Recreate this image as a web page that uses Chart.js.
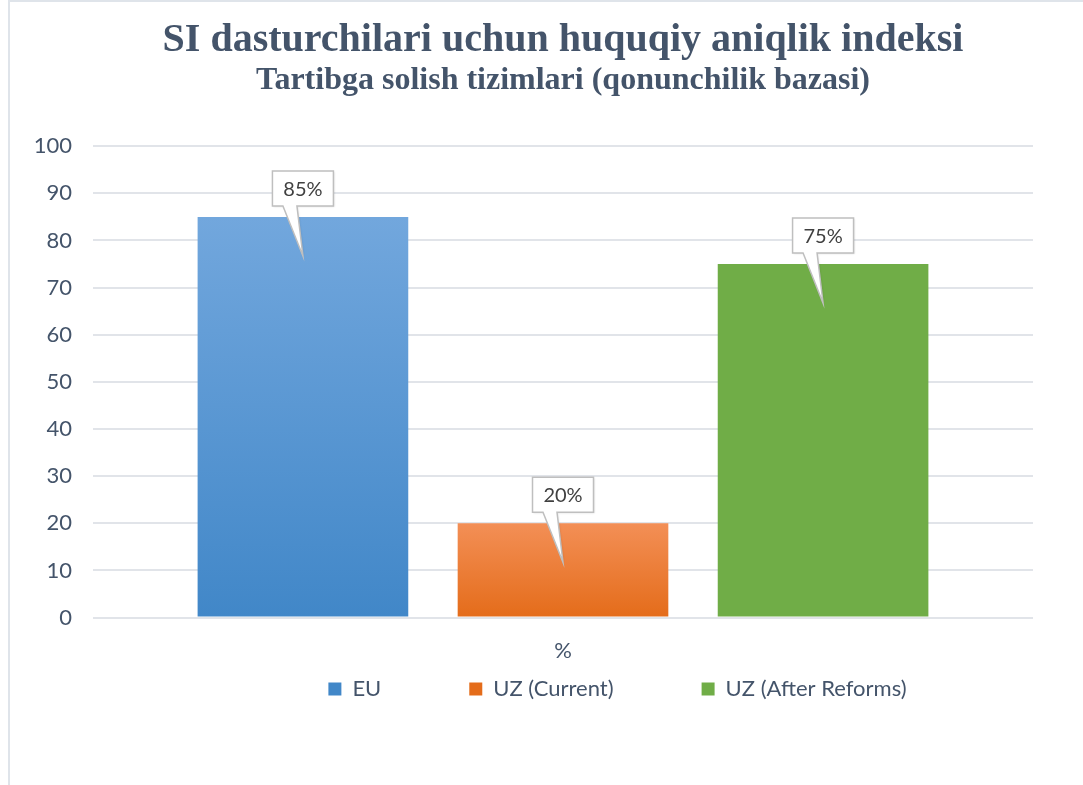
<!DOCTYPE html>
<html>
<head>
<meta charset="utf-8">
<script src="https://cdn.jsdelivr.net/npm/chart.js@4.4.1/dist/chart.umd.min.js"></script>
<style>
  html, body { margin: 0; padding: 0; background: #ffffff; }
  #wrap { position: relative; width: 1083px; height: 785px; }
  #frame { position: absolute; left: 8px; top: 0; width: 1075px; height: 785px;
           border-left: 2px solid #dfe4ea; border-top: 2px solid #dfe4ea; box-sizing: border-box; }
  canvas { position: absolute; left: 0; top: 0; }
</style>
</head>
<body>
<div id="wrap">
  <div id="frame"></div>
  <canvas id="myChart" width="1083" height="785"></canvas>
</div>
<script>
// Datos del gráfico
const categorias = ['%'];
const series = ['EU', 'UZ (Current)', 'UZ (After Reforms)'];
const valores = [85, 20, 75];
const etiquetas = ['85%', '20%', '75%'];
const ticksY = [0, 10, 20, 30, 40, 50, 60, 70, 80, 90, 100];

const titulo = 'SI dasturchilari uchun huquqiy aniqlik indeksi';
const subtitulo = 'Tartibga solish tizimlari (qonunchilik bazasi)';

// colores: [arriba, abajo]
const colores = [
    ['#72a7dd', '#4187c8'],
    ['#f38f56', '#e46c1a'],
    ['#70ad47', '#70ad47']
];

const colorTexto = '#44546a';
const fuente = 'Lato, "Open Sans", sans-serif';

function degradado(i) {
    return function(context) {
        const chart = context.chart;
        const area = chart.chartArea;
        if (!area) return colores[i][1];
        const y = chart.scales.y;
        const top = y.getPixelForValue(valores[i]);
        const bottom = y.getPixelForValue(0);
        const g = chart.ctx.createLinearGradient(0, top, 0, bottom);
        g.addColorStop(0, colores[i][0]);
        g.addColorStop(1, colores[i][1]);
        return g;
    };
}

// Etiquetas tipo "globo" encima de cada barra
const globos = {
    id: 'globos',
    afterDatasetsDraw(chart) {
        const ctx = chart.ctx;
        ctx.save();
        chart.data.datasets.forEach((ds, i) => {
            const bar = chart.getDatasetMeta(i).data[0];
            if (!bar) return;
            const cx = bar.x;
            const top = bar.y - 46;
            const bottom = bar.y - 11;
            const w = 61;
            const left = cx - w / 2;
            const tipY = bar.y + 39;

            ctx.beginPath();
            ctx.moveTo(left, top);
            ctx.lineTo(left + w, top);
            ctx.lineTo(left + w, bottom);
            ctx.lineTo(cx - 6, bottom);
            ctx.lineTo(cx, tipY);
            ctx.lineTo(cx - 20, bottom);
            ctx.lineTo(left, bottom);
            ctx.closePath();
            ctx.shadowColor = 'rgba(0,0,0,0.12)';
            ctx.shadowBlur = 2;
            ctx.shadowOffsetX = 1;
            ctx.shadowOffsetY = 1;
            ctx.fillStyle = '#ffffff';
            ctx.fill();
            ctx.shadowColor = 'transparent';
            ctx.strokeStyle = '#bfbfbf';
            ctx.lineWidth = 1.5;
            ctx.stroke();

            ctx.fillStyle = '#404040';
            ctx.font = '20px ' + fuente;
            ctx.textAlign = 'center';
            ctx.textBaseline = 'middle';
            ctx.fillText(etiquetas[i], cx, (top + bottom) / 2 + 1);
        });
        ctx.restore();
    }
};

// La leyenda usa un padding grande para separar los elementos;
// aquí se recoloca la caja (justo debajo del eje X y algo a la derecha)
const PAD_LEYENDA = 88;
const moverLeyenda = {
    id: 'moverLeyenda',
    afterLayout(chart) {
        const lg = chart.legend;
        if (!lg) return;
        lg.top = chart.scales.x.bottom - 6 - PAD_LEYENDA;
        lg.bottom = Math.max(lg.bottom, chart.scales.x.bottom + 60);
        lg.left += 96;
        lg.right += 96;
    }
};

const ctx = document.getElementById('myChart').getContext('2d');

new Chart(ctx, {
    type: 'bar',
    data: {
        labels: categorias,
        datasets: series.map((nombre, i) => ({
            label: nombre,
            data: [valores[i]],
            backgroundColor: degradado(i),
            borderWidth: 0,
            categoryPercentage: 0.83,
            barPercentage: 0.81
        }))
    },
    options: {
        responsive: false,
        animation: false,
        devicePixelRatio: 1,
        layout: { padding: { left: 10, right: 50, top: 11, bottom: 59 } },
        plugins: {
            title: {
                display: true,
                text: titulo,
                fullSize: false,
                color: colorTexto,
                font: { family: '"Liberation Serif", serif', size: 40, weight: 'bold', lineHeight: 1.1 },
                padding: { top: 8, bottom: 0 }
            },
            subtitle: {
                display: true,
                text: subtitulo,
                fullSize: false,
                color: colorTexto,
                font: { family: '"Liberation Serif", serif', size: 32, weight: 'bold', lineHeight: 1.1 },
                padding: { top: 0, bottom: 48 }
            },
            legend: {
                position: 'bottom',
                fullSize: true,
                maxHeight: 42,
                labels: {
                    color: colorTexto,
                    font: { family: fuente, size: 22 },
                    boxWidth: 13,
                    boxHeight: 13,
                    padding: PAD_LEYENDA,
                    generateLabels(chart) {
                        return series.map((nombre, i) => ({
                            text: nombre,
                            fillStyle: colores[i][1],
                            strokeStyle: colores[i][1],
                            lineWidth: 0,
                            fontColor: colorTexto,
                            datasetIndex: i
                        }));
                    }
                }
            },
            tooltip: { enabled: false }
        },
        scales: {
            x: {
                grid: { display: false, drawTicks: false },
                border: { display: false },
                ticks: {
                    color: colorTexto,
                    font: { family: fuente, size: 22 },
                    padding: 20
                }
            },
            y: {
                min: 0,
                max: 100,
                afterFit(scale) { scale.width = 83; },
                afterBuildTicks(scale) { scale.ticks = ticksY.map(v => ({ value: v })); },
                grid: { color: '#e1e4e9', lineWidth: 2, drawTicks: false },
                border: { display: false },
                ticks: {
                    color: colorTexto,
                    font: { family: fuente, size: 22 },
                    padding: 21
                }
            }
        }
    },
    plugins: [globos, moverLeyenda]
});
</script>
</body>
</html>
